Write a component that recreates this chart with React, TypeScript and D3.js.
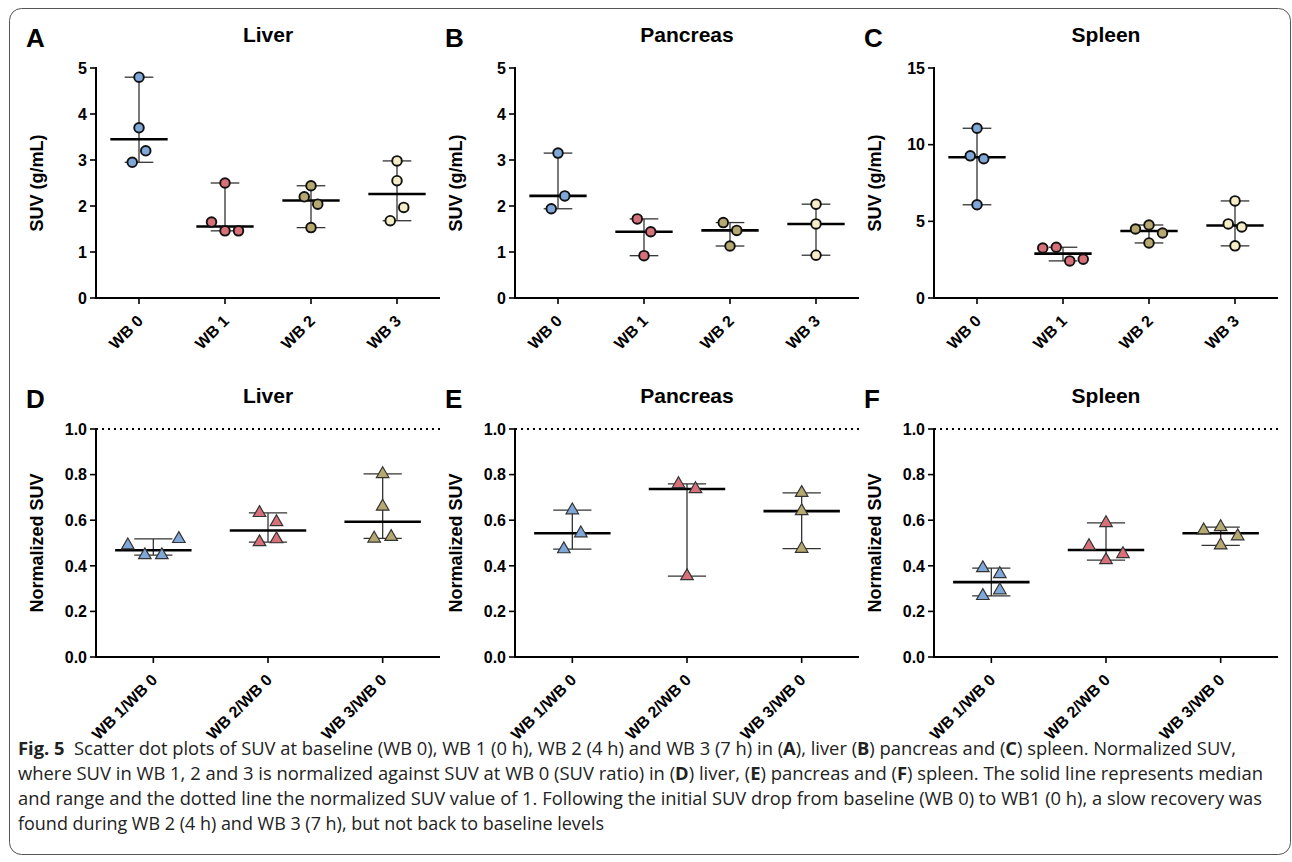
import React from 'react';
import * as d3 from 'd3';

// categories / labels
const suvCategories = ['WB 0', 'WB 1', 'WB 2', 'WB 3'];
const ratioCategories = ['WB 1/WB 0', 'WB 2/WB 0', 'WB 3/WB 0'];
const organs = ['Liver', 'Pancreas', 'Spleen'];
const topLetters = ['A', 'B', 'C'];
const bottomLetters = ['D', 'E', 'F'];

// SUV (g/mL) per time point
const liverSuv = [[4.8, 3.7, 2.95, 3.2], [2.5, 1.65, 1.46, 1.46], [2.44, 2.2, 2.04, 1.53], [2.98, 2.55, 1.68, 1.97]];
const pancreasSuv = [[3.15, 1.94, 2.22], [1.72, 1.44, 0.92], [1.64, 1.47, 1.13], [2.04, 1.61, 0.93]];
const spleenSuv = [[11.07, 9.27, 9.08, 6.08], [3.26, 3.31, 2.42, 2.53], [4.5, 4.76, 4.24, 3.59], [6.33, 4.83, 4.63, 3.4]];

// normalized SUV (ratio to WB 0)
const liverRatio = [[0.49, 0.447, 0.447, 0.518], [0.632, 0.592, 0.504, 0.517], [0.803, 0.66, 0.52, 0.527]];
const pancreasRatio = [[0.644, 0.473, 0.543], [0.759, 0.737, 0.355], [0.72, 0.64, 0.475]];
const spleenRatio = [[0.39, 0.364, 0.268, 0.293], [0.588, 0.487, 0.425, 0.452], [0.556, 0.57, 0.53, 0.49]];

// y axes
const suvTicks = [[0, 1, 2, 3, 4, 5], [0, 1, 2, 3, 4, 5], [0, 5, 10, 15]];
const ratioTicks = [0, 0.2, 0.4, 0.6, 0.8, 1.0];

const fills = ['#7fa7d8', '#d8707a', '#b6a871', '#f4edc8'];
const FONT = "Arial, 'Liberation Sans', Helvetica, sans-serif";

// groups points that sit close together vertically and spreads them sideways
function swarm(values, y, limit, step) {
  let groups = values
    .map((v, i) => ({ i, py: y(v) }))
    .sort((a, b) => a.py - b.py)
    .map(p => ({ items: [p], lo: p.py, hi: p.py }));
  while (true) {
    let best = -1, bestSpan = Infinity;
    for (let k = 0; k < groups.length - 1; k++) {
      const span = groups[k + 1].hi - groups[k].lo;
      if (span <= limit && span < bestSpan) { best = k; bestSpan = span; }
    }
    if (best < 0) break;
    const a = groups[best], b = groups[best + 1];
    groups.splice(best, 2, { items: a.items.concat(b.items), lo: a.lo, hi: b.hi });
  }
  const offs = new Array(values.length).fill(0);
  groups.forEach(g => {
    const items = g.items.slice().sort((a, b) => a.i - b.i);
    items.forEach((p, k) => { offs[p.i] = (k - (items.length - 1) / 2) * step; });
  });
  return offs;
}

const Panel = ({ x0, top, bottom, letter, title, yLabel, categories, data, ticks, fmt, triangle, refLine }) => {
  const width = 344;
  const xScale = d3.scaleBand().domain(categories).range([x0, x0 + width]);
  const yScale = d3.scaleLinear().domain([0, ticks[ticks.length - 1]]).range([bottom, top]);
  const bw = xScale.bandwidth();
  const tri = d3.symbol(d3.symbolTriangle, 68)();

  return (
    <g style={{ fontFamily: FONT }}>
      <text x={x0 - 70} y={top - 21} fontSize={26} fontWeight="bold">{letter}</text>
      <text x={x0 + width / 2} y={top - 26} fontSize={21} fontWeight="bold" textAnchor="middle">{title}</text>
      <text transform={`translate(${x0 - 53},${(top + bottom) / 2}) rotate(-90)`} fontSize={18} fontWeight="bold" textAnchor="middle">{yLabel}</text>

      {refLine && (
        <line x1={x0} x2={x0 + width} y1={yScale(1)} y2={yScale(1)} stroke="#000" strokeWidth={2} strokeDasharray="2 4" />
      )}

      {/* y axis */}
      <line x1={x0} x2={x0} y1={top - 1} y2={bottom + 1} stroke="#000" strokeWidth={2} />
      {ticks.map(t => (
        <g key={t}>
          <line x1={x0 - 6} x2={x0} y1={yScale(t)} y2={yScale(t)} stroke="#000" strokeWidth={1.6} />
          <text x={x0 - 9} y={yScale(t)} dy="0.36em" fontSize={16} fontWeight="bold" textAnchor="end">{fmt(t)}</text>
        </g>
      ))}

      {/* x axis */}
      <line x1={x0 - 1} x2={x0 + width} y1={bottom} y2={bottom} stroke="#000" strokeWidth={2} />
      {categories.map(c => {
        const cx = xScale(c) + bw / 2;
        return (
          <g key={c}>
            <line x1={cx} x2={cx} y1={bottom} y2={bottom + 6} stroke="#000" strokeWidth={1.6} />
            <text transform={`translate(${cx + 5},${bottom + 24}) rotate(-45)`} fontSize={16} fontWeight="bold" textAnchor="end">{c}</text>
          </g>
        );
      })}

      {categories.map((c, ci) => {
        const vals = data[ci];
        const cx = xScale(c) + bw / 2;
        const med = d3.median(vals);
        const lo = d3.min(vals), hi = d3.max(vals);
        const offs = triangle ? swarm(vals, yScale, 17, 17) : swarm(vals, yScale, 14, 13.5);
        return (
          <g key={c}>
            <line x1={cx} x2={cx} y1={yScale(hi)} y2={yScale(lo)} stroke="#333" strokeWidth={1.3} />
            <line x1={cx - bw / 6} x2={cx + bw / 6} y1={yScale(hi)} y2={yScale(hi)} stroke="#333" strokeWidth={1.3} />
            <line x1={cx - bw / 6} x2={cx + bw / 6} y1={yScale(lo)} y2={yScale(lo)} stroke="#333" strokeWidth={1.3} />
            <line x1={cx - bw / 3} x2={cx + bw / 3} y1={yScale(med)} y2={yScale(med)} stroke="#000" strokeWidth={2.6} />
            {vals.map((v, i) =>
              triangle ? (
                <path key={i} d={tri} transform={`translate(${cx + offs[i]},${yScale(v)})`} fill={fills[ci]} stroke="#333" strokeWidth={1.2} />
              ) : (
                <circle key={i} cx={cx + offs[i]} cy={yScale(v)} r={4.8} fill={fills[ci]} stroke="#111" strokeWidth={1.9} />
              )
            )}
          </g>
        );
      })}
    </g>
  );
};

const captionLines = [
  [['Fig. 5', true], ['  Scatter dot plots of SUV at baseline (WB 0), WB 1 (0 h), WB 2 (4 h) and WB 3 (7 h) in (', false], ['A', true], ['), liver (', false], ['B', true], [') pancreas and (', false], ['C', true], [') spleen. Normalized SUV,', false]],
  [['where SUV in WB 1, 2 and 3 is normalized against SUV at WB 0 (SUV ratio) in (', false], ['D', true], [') liver, (', false], ['E', true], [') pancreas and (', false], ['F', true], [') spleen. The solid line represents median', false]],
  [['and range and the dotted line the normalized SUV value of 1. Following the initial SUV drop from baseline (WB 0) to WB1 (0 h), a slow recovery was', false]],
  [['found during WB 2 (4 h) and WB 3 (7 h), but not back to baseline levels', false]],
];
const captionWidths = [1218, 1245, 1244, 586];

export default function App() {
  const axisX = [96, 515, 934];
  const suvData = [liverSuv, pancreasSuv, spleenSuv];
  const ratioData = [liverRatio, pancreasRatio, spleenRatio];
  return (
    <svg width={1292} height={862} style={{ position: 'absolute', left: 0, top: 0, background: '#fff' }}>
      <rect x={9.5} y={8.5} width={1281} height={846} rx={12} fill="none" stroke="#555" strokeWidth={1} />
      {organs.map((o, i) => (
        <Panel key={'s' + o} x0={axisX[i]} top={68} bottom={298} letter={topLetters[i]} title={o}
          yLabel="SUV (g/mL)" categories={suvCategories} data={suvData[i]} ticks={suvTicks[i]}
          fmt={d3.format('d')} triangle={false} refLine={false} />
      ))}
      {organs.map((o, i) => (
        <Panel key={'r' + o} x0={axisX[i]} top={429} bottom={657} letter={bottomLetters[i]} title={o}
          yLabel="Normalized SUV" categories={ratioCategories} data={ratioData[i]} ticks={ratioTicks}
          fmt={d3.format('.1f')} triangle={true} refLine={true} />
      ))}
      <g style={{ fontFamily: "'Liberation Sans Narrow', 'Open Sans', Arial, sans-serif" }} fontSize={18} fill="#222">
        {captionLines.map((line, li) => (
          <text key={li} x={18} y={755 + li * 25} textLength={captionWidths[li]} lengthAdjust="spacingAndGlyphs" style={{ whiteSpace: 'pre' }}>
            {line.map(([t, b], k) => (
              <tspan key={k} fontWeight={b ? 'bold' : 'normal'}>{t}</tspan>
            ))}
          </text>
        ))}
      </g>
    </svg>
  );
}
